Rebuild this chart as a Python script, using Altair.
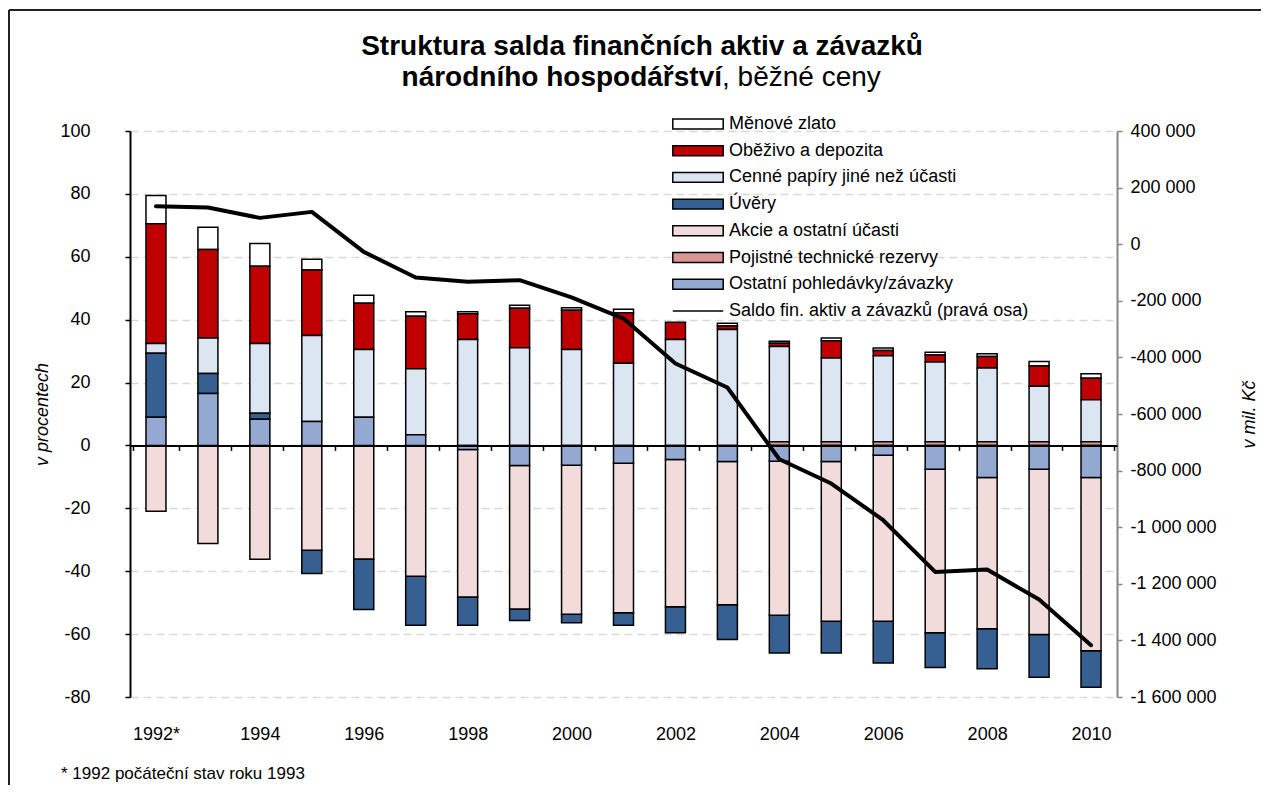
import altair as alt
import pandas as pd

# ---------------- data ----------------
years = ["1992*", "1993", "1994", "1995", "1996", "1997", "1998", "1999", "2000", "2001",
         "2002", "2003", "2004", "2005", "2006", "2007", "2008", "2009", "2010"]
year_labels = ["1992*", "1994", "1996", "1998", "2000", "2002", "2004", "2006", "2008", "2010"]

series_names = ["Měnové zlato", "Oběživo a depozita", "Cenné papíry jiné než účasti", "Úvěry",
                "Akcie a ostatní účasti", "Pojistné technické rezervy", "Ostatní pohledávky/závazky"]
series_colors = ["#FFFFFF", "#C00000", "#DCE6F2", "#376092", "#F2DCDB", "#DA9694", "#94A9D1"]
# stacking order (from zero outwards)
stack_order = [7, 6, 5, 4, 3, 2, 1]

zlato = [9.0, 7.1, 7.2, 3.4, 2.6, 1.4, 0.6, 1.0, 0.8, 1.1, 0.0, 0.85, 0.6, 0.85, 0.75, 0.85, 0.85, 1.4, 1.4]
obezivo = [38.1, 28.1, 24.6, 20.8, 14.7, 16.7, 8.2, 12.5, 12.5, 16.1, 5.5, 1.1, 1.0, 5.5, 1.7, 2.3, 3.7, 6.5, 6.9]
cenne = [3.1, 11.3, 22.2, 27.4, 21.5, 21.0, 33.7, 31.1, 30.5, 26.1, 33.7, 36.9, 30.3, 26.6, 27.3, 25.3, 23.4, 17.6, 13.3]
uvery = [20.3, 6.4, 1.9, -7.4, -16.1, -15.6, -9.0, -3.7, -2.7, -4.0, -8.3, -11.0, -12.0, -10.1, -13.3, -11.0, -12.7, -13.6, -11.6]
akcie = [-20.9, -31.2, -36.2, -33.3, -36.1, -41.6, -46.9, -45.6, -47.4, -47.5, -46.8, -45.6, -49.0, -50.8, -52.8, -52.0, -48.1, -52.5, -55.1]
pojistne = [0, 0, 0, 0, 0, 0, 0, 0, 0, 0, 0, 0, 1.2, 1.2, 1.2, 1.2, 1.2, 1.2, 1.2]
ostatni = [9.0, 16.5, 8.3, 7.6, 9.0, 3.4, -1.3, -6.4, -6.3, -5.7, -4.5, -5.1, -5.0, -5.1, -3.1, -7.6, -10.2, -7.6, -10.2]

saldo_name = "Saldo fin. aktiv a závazků (pravá osa)"
saldo = [134000, 129600, 93000, 114200, -27100, -117800, -133100, -127200, -188000, -262700,
         -421700, -506500, -760000, -845700, -975300, -1158000, -1149600, -1255600, -1417000]

title_line1 = "Struktura salda finančních aktiv a závazků"
title_line2_bold = "národního hospodářství"
title_line2_normal = ", běžné ceny"
footnote = "* 1992 počáteční stav roku 1993"

left_ticks = [-80, -60, -40, -20, 0, 20, 40, 60, 80, 100]
right_ticks = [-1600000, -1400000, -1200000, -1000000, -800000, -600000, -400000,
               -200000, 0, 200000, 400000]

# ---------------- tables ----------------
all_series = [zlato, obezivo, cenne, uvery, akcie, pojistne, ostatni]
rows = []
for name, vals, order in zip(series_names, all_series, stack_order):
    for y, v in zip(years, vals):
        if v != 0:
            rows.append({"year": y, "series": name, "value": v, "ord": order})
bars_df = pd.DataFrame(rows)
line_df = pd.DataFrame({"year": years, "saldo": saldo, "name": saldo_name})

FONT = "Liberation Sans"
label_expr = "indexof([" + ",".join("'" + l + "'" for l in year_labels) + "], datum.value) >= 0 ? datum.value : ''"
rect_path = "M-2.8,-0.55L2.8,-0.55L2.8,0.55L-2.8,0.55Z"
line_path = "M-2.8,0L2.8,0"

x_axis = alt.Axis(orient="bottom", offset=-251.6, title=None, grid=False,
                  domainColor="black", domainWidth=2, tickBand="extent",
                  tickColor="black", tickSize=5, tickWidth=1.5,
                  labelAngle=0, labelFontSize=18, labelPadding=275,
                  labelColor="black", labelExpr=label_expr, zindex=1)

bars = alt.Chart(bars_df).mark_bar(size=20, stroke="black", strokeWidth=1.5).encode(
    x=alt.X("year:O", sort=years, scale=alt.Scale(domain=years), axis=x_axis),
    y=alt.Y("value:Q", stack="zero",
            scale=alt.Scale(domain=[-80, 100], nice=False),
            axis=alt.Axis(values=left_ticks, format="d", grid=True, gridColor="#D9D9D9",
                          gridDash=[8, 5], gridWidth=1.5, domainColor="black", domainWidth=2,
                          tickColor="black", tickSize=5, tickWidth=1.5,
                          labelFontSize=18, labelPadding=35, labelColor="black",
                          title="v procentech", titleFontStyle="italic", titleFontWeight="normal",
                          titleFontSize=18, titleColor="black", titlePadding=8)),
    color=alt.Color("series:N", scale=alt.Scale(domain=series_names, range=series_colors),
                    legend=alt.Legend(orient="none", legendX=558, legendY=-17, title=None,
                                      symbolType=rect_path, symbolSize=324,
                                      symbolStrokeColor="black", symbolStrokeWidth=1.5,
                                      labelFontSize=18, labelOffset=21, rowPadding=7.7,
                                      padding=0, labelColor="black", labelLimit=500)),
    order=alt.Order("ord:Q"),
)

line = alt.Chart(line_df).mark_line(strokeWidth=4, strokeJoin="round", strokeCap="round").encode(
    x=alt.X("year:O", sort=years, scale=alt.Scale(domain=years), axis=x_axis),
    y=alt.Y("saldo:Q", scale=alt.Scale(domain=[-1600000, 400000], nice=False),
            axis=alt.Axis(orient="right", values=right_ticks, format=",d", grid=False,
                          domainColor="#868686", domainWidth=2, tickColor="#868686",
                          tickSize=5, tickWidth=1.5, labelFontSize=18, labelPadding=8,
                          labelColor="black", title="v mil. Kč", titleAngle=270,
                          titleFontStyle="italic", titleFontWeight="normal", titleFontSize=18,
                          titleColor="black", titlePadding=42)),
    stroke=alt.Stroke("name:N", scale=alt.Scale(domain=[saldo_name], range=["black"]),
                      legend=alt.Legend(orient="none", legendX=558, legendY=170, title=None,
                                        symbolType=line_path, symbolSize=324,
                                        symbolStrokeWidth=1.5, labelFontSize=18, labelOffset=21,
                                        padding=0, labelColor="black", labelLimit=500)),
)

t1 = alt.Chart(pd.DataFrame({"t": [title_line1]})).mark_text(
    font=FONT, fontSize=28, fontWeight="bold", align="center", baseline="middle", color="black"
).encode(text="t:N", x=alt.value(512), y=alt.value(-84))
t2 = alt.Chart(pd.DataFrame({"t": [title_line2_bold]})).mark_text(
    font=FONT, fontSize=28, fontWeight="bold", align="right", baseline="middle", color="black"
).encode(text="t:N", x=alt.value(592), y=alt.value(-53))
t3 = alt.Chart(pd.DataFrame({"t": [title_line2_normal]})).mark_text(
    font=FONT, fontSize=28, fontWeight="normal", align="left", baseline="middle", color="black"
).encode(text="t:N", x=alt.value(592), y=alt.value(-53))
fn = alt.Chart(pd.DataFrame({"t": [footnote]})).mark_text(
    font=FONT, fontSize=17, align="left", baseline="middle", color="black"
).encode(text="t:N", x=alt.value(-69), y=alt.value(643))

frame_top = alt.Chart(pd.DataFrame({"a": [0]})).mark_rule(color="#222222", strokeWidth=2).encode(
    x=alt.value(-121), x2=alt.value(1140), y=alt.value(-121))
frame_left = alt.Chart(pd.DataFrame({"a": [0]})).mark_rule(color="#222222", strokeWidth=2).encode(
    x=alt.value(-121), y=alt.value(-121), y2=alt.value(700))

chart = alt.layer(bars, line, t1, t2, t3, fn, frame_top, frame_left).resolve_scale(
    y="independent"
).properties(
    width=987, height=566,
    autosize=alt.AutoSizeParams(type="none"),
    padding={"left": 122, "top": 123, "right": 144, "bottom": 88},
).configure(
    font=FONT,
    locale={"number": {"decimal": ",", "thousands": " ", "grouping": [3],
                       "currency": ["", ""], "minus": "-"}},
).configure_view(stroke=None)

chart.save("out.html", embed_options={"renderer": "svg", "actions": False})
